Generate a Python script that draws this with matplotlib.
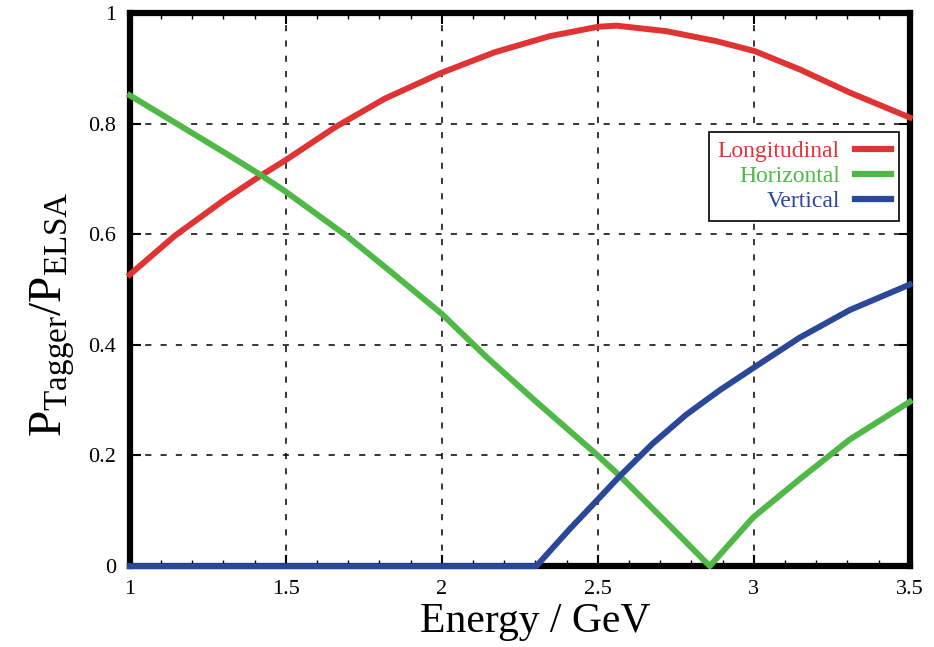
import matplotlib
matplotlib.use("Agg")
import matplotlib.pyplot as plt
from matplotlib.ticker import MultipleLocator, FuncFormatter

plt.rcParams["font.family"] = ["Liberation Serif", "DejaVu Serif"]
plt.rcParams["mathtext.fontset"] = "custom"
plt.rcParams["mathtext.rm"] = "Liberation Serif"
plt.rcParams["mathtext.it"] = "Liberation Serif:italic"

# ----------------------------
# data
# ----------------------------
energy_long = [1.0, 1.144, 1.305, 1.417, 1.497, 1.657, 1.817, 2.0, 2.17, 2.346,
               2.501, 2.56, 2.72, 2.88, 3.003, 3.147, 3.308, 3.5]
p_long = [0.527, 0.597, 0.663, 0.705, 0.733, 0.793, 0.845, 0.892, 0.929, 0.958,
          0.975, 0.977, 0.967, 0.949, 0.931, 0.898, 0.856, 0.811]

energy_hor = [1.0, 1.144, 1.305, 1.417, 1.497, 1.695, 1.839, 2.0, 2.143, 2.303,
              2.496, 2.571, 2.731, 2.859, 2.998, 3.147, 3.308, 3.5]
p_hor = [0.851, 0.802, 0.747, 0.708, 0.678, 0.597, 0.531, 0.456, 0.378, 0.297,
         0.202, 0.163, 0.073, 0.0, 0.088, 0.157, 0.229, 0.297]

energy_vert = [1.0, 2.303, 2.41, 2.496, 2.571, 2.677, 2.784, 2.891, 2.998,
               3.147, 3.308, 3.5]
p_vert = [0.0, 0.0, 0.067, 0.118, 0.163, 0.222, 0.274, 0.318, 0.358,
          0.413, 0.463, 0.509]

red = "#e03434"
green = "#4fb847"
blue = "#2b4797"

fig = plt.figure(figsize=(9.34, 6.47), dpi=100)
ax = fig.add_axes([0.139, 0.125, 0.835, 0.855])

for xs, ys, c, lab in [(energy_long, p_long, red, "Longitudinal"),
                       (energy_hor, p_hor, green, "Horizontal"),
                       (energy_vert, p_vert, blue, "Vertical")]:
    ax.plot(xs, ys, color=c, lw=4.3, label=lab, solid_joinstyle="round",
            clip_on=False, zorder=3)

ax.set_xlim(1, 3.5)
ax.set_ylim(0, 1)
ax.xaxis.set_major_locator(MultipleLocator(0.5))
ax.xaxis.set_minor_locator(MultipleLocator(0.1))
ax.yaxis.set_major_locator(MultipleLocator(0.2))
ax.xaxis.set_major_formatter(FuncFormatter(lambda v, p: f"{v:g}"))
ax.yaxis.set_major_formatter(FuncFormatter(lambda v, p: f"{v:g}"))

ax.grid(True, which="major", color="black", linestyle=(0, (4, 6)), linewidth=1.1)
ax.tick_params(which="both", direction="in", top=True, right=True, labelsize=16, colors="black", pad=10)
ax.tick_params(which="major", length=8, width=1.5)
ax.tick_params(which="minor", length=4, width=1.0)
for s in ax.spines.values():
    s.set_linewidth(4.5)
    s.set_zorder(2.5)

ax.set_xlabel("Energy / GeV", fontsize=30)
ax.set_ylabel(r"$\mathregular{P_{Tagger}/P_{ELSA}}$", fontsize=34)
ax.xaxis.set_label_coords(0.52, -0.066)
ax.yaxis.set_label_coords(-0.068, 0.455)

leg = ax.legend(loc="upper right", bbox_to_anchor=(0.986, 0.784), borderaxespad=0,
                fontsize=17, markerfirst=False, labelcolor="linecolor", fancybox=False,
                edgecolor="black", framealpha=1, handlelength=1.5,
                borderpad=0.35, labelspacing=0.15, handletextpad=0.65)
leg.get_frame().set_linewidth(1.2)
for line in leg.get_lines():
    line.set_linewidth(4.5)

fig.savefig("out.png", dpi=100)
